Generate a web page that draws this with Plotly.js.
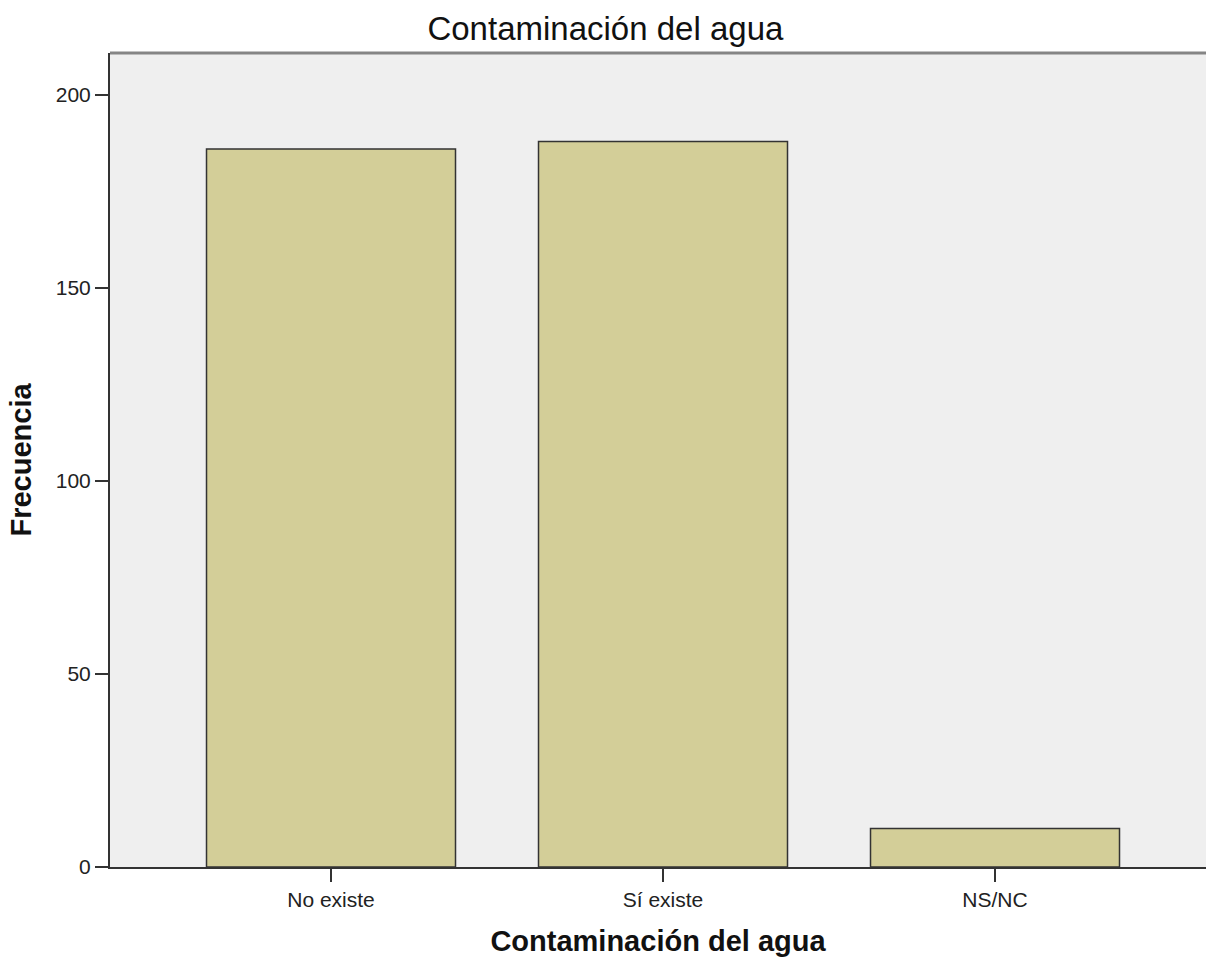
<!DOCTYPE html>
<html>
<head>
<meta charset="utf-8">
<script src="https://cdn.plot.ly/plotly-3.0.1.min.js"></script>
<style>html,body{margin:0;padding:0;background:#fff}#chart{width:1206px;height:957px}</style>
</head>
<body>
<div id="chart"></div>
<script>
const categories = ["No existe", "Sí existe", "NS/NC"];
const frequencies = [186, 188, 10];
const yTicks = [0, 50, 100, 150, 200];

const trace = {
  type: "bar",
  x: categories,
  y: frequencies,
  width: 0.75,
  marker: { color: "#d3ce98", line: { color: "#333333", width: 1.5 } },
  hoverinfo: "x+y"
};

const layout = {
  width: 1206,
  height: 957,
  margin: { l: 110, r: 0, t: 53, b: 90 },
  paper_bgcolor: "#ffffff",
  plot_bgcolor: "#efefef",
  showlegend: false,
  title: {
    text: "Contaminación del agua",
    font: { family: "Liberation Sans, Arial, sans-serif", size: 33, color: "#111" },
    x: 0.502, xref: "container", y: 0.97, yref: "container", yanchor: "middle"
  },
  xaxis: {
    type: "category",
    range: [-0.6657, 2.6355],
    showline: true, linecolor: "#333", linewidth: 2,
    ticks: "outside", ticklen: 13, tickwidth: 2, tickcolor: "#333",
    showgrid: false, zeroline: false,
    tickfont: { family: "Liberation Sans, Arial, sans-serif", size: 21, color: "#222" },
    title: {
      text: "<b>Contaminación del agua</b>",
      font: { family: "Liberation Sans, Arial, sans-serif", size: 29, color: "#111" },
      standoff: 20
    }
  },
  yaxis: {
    range: [0, 210.9],
    tickvals: yTicks,
    showline: true, linecolor: "#333", linewidth: 2,
    ticks: "outside", ticklen: 13, tickwidth: 2, tickcolor: "#333",
    showgrid: false, zeroline: false,
    tickfont: { family: "Liberation Sans, Arial, sans-serif", size: 21, color: "#222" },
    title: {
      text: "<b>Frecuencia</b>",
      font: { family: "Liberation Sans, Arial, sans-serif", size: 29, color: "#111" },
      standoff: 16
    }
  },
  shapes: [{
    type: "line", xref: "paper", yref: "paper", x0: 0, x1: 1, y0: 1, y1: 1,
    line: { color: "#858585", width: 3 }
  }]
};

Plotly.newPlot("chart", [trace], layout, { displayModeBar: false, responsive: false });
</script>
</body>
</html>
